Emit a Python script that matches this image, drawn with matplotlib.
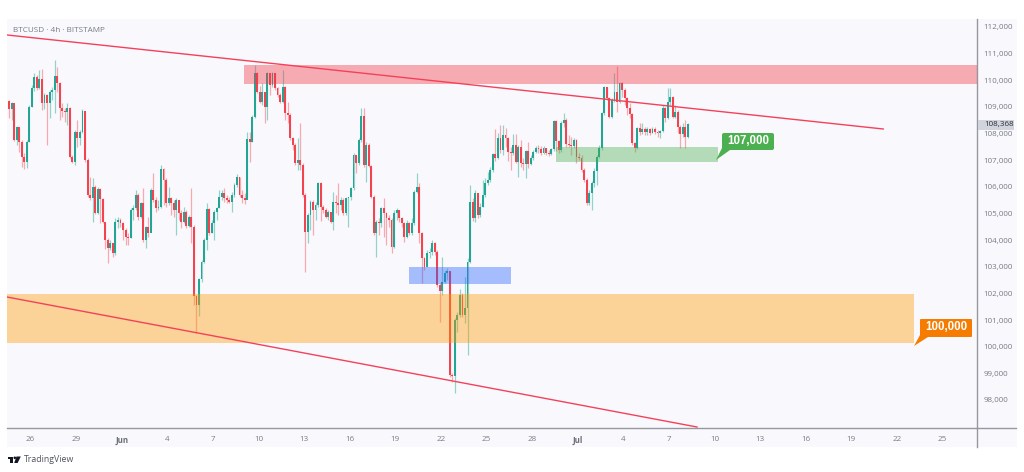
import matplotlib
matplotlib.use("Agg")
import matplotlib.pyplot as plt
from matplotlib.patches import Rectangle, Polygon, Circle, FancyBboxPatch
from matplotlib.transforms import Affine2D
import numpy as np

# 4h candles (open = previous close)
first_open = 109223
closes = [
    108910, 109135, 107759, 108260, 107697, 107134, 106946, 107697, 109010, 109698,
    110136, 109698, 110036, 109135, 109448, 109135, 109573, 109636, 110161, 109886,
    108948, 108860, 108823, 108948, 107134, 106946, 108072, 107822, 108072, 108860,
    107009, 105695, 105570, 106008, 105032, 105908, 105533, 104694, 104006, 103694,
    103881, 103506, 104694, 104757, 104632, 104382, 104132, 104069, 105132, 105195,
    105695, 104882, 105408, 104006, 104482, 104257, 105883, 105508, 105195, 105258,
    106671, 106258, 105383, 105570, 105383, 105132, 105508, 105007, 104694, 105070,
    104532, 104882, 104507, 101905, 101566, 102530, 103193, 104006, 105157, 104257,
    104632, 105070, 105195, 105633, 105758, 105570, 105508, 105445, 105695, 106071,
    106383, 105695, 105570, 105508, 107784, 107697, 108635, 110261, 109573, 109198,
    109573, 109010, 110261, 109823, 110261, 109698, 109448, 109198, 109736, 108760,
    108698, 107822, 107572, 106884, 107009, 106821, 105695, 104319, 104945, 105445,
    105132, 105320, 106133, 105257, 105132, 104882, 105070, 104694, 105445, 105382,
    105320, 105508, 105007, 105570, 105600, 105945, 107196, 106884, 107759,
    108673, 106821, 107572, 106796, 105633, 104257, 104669, 104632, 105195, 105007,
    104820, 104757, 103756, 105007, 105132, 104820, 104632, 104131, 104632, 104257,
    104632, 105820, 106008, 104257, 103318, 103006, 103506, 103568, 103906, 103568,
    102317, 102105, 102443, 102755, 102850, 98937, 98900, 101001, 101189, 101940,
    101189, 101439, 103191, 105445, 104820, 105757, 104944, 105257, 105695, 106133,
    106258, 106633, 107221, 107071, 107821, 107384, 107947, 107846, 107321, 107258,
    107571, 106946, 107509, 106883, 106846, 107346, 106846, 107071, 107321, 107471,
    107421, 107258, 107471, 107258, 107221, 107409, 108472, 107721, 107384, 108384,
    108510, 107596, 107571, 107546, 107759, 107133, 107096, 106633, 106258, 105382,
    105757, 106133, 106600, 107133, 107446, 108760, 109735, 109323, 108635, 109260, 109573,
    109198, 109886, 109635, 109323, 108947, 108722, 107634, 107446, 108197, 108047,
    108172, 108047, 108172, 108009, 108172, 108047, 108009, 108097, 108947, 108597,
    109198, 109385, 108635, 108822, 108259, 107971, 108259, 107884, 108368,
]
highs = [
    109260, 109198, 108985, 108285, 108235, 107760, 107259, 107760, 109073, 109824,
    110261, 110199, 110386, 110411, 109510, 109486, 109636, 109761, 110762, 110512,
    109949, 109135, 108948, 109135, 108985, 107196, 108135, 108510, 108135, 108910,
    108860, 107071, 106383, 106321, 106071, 106008, 105945, 105570, 104632, 104069,
    104006, 103881, 104819, 104882, 104819, 104694, 104444, 104257, 105195, 105320,
    105883, 105758, 105445, 105945, 104532, 104882, 105945, 106508, 105633, 105508,
    106821, 106696, 106321, 106008, 105633, 105508, 105570, 105508, 105132, 105258,
    105132, 104945, 105945, 104569, 101943, 102568, 103256, 104069, 105383, 105195,
    104757, 105132, 105258, 105883, 105883, 105945, 105696, 105633, 105820, 106133,
    106483, 106383, 105883, 105758, 108072, 108072, 108698, 110574, 110324, 109786,
    109886, 109573, 110324, 110286, 110324, 110261, 109761, 109511, 110386, 109786,
    109198, 108760, 107884, 107634, 107822, 108410, 106884, 105758, 105007, 105508,
    105508, 105445, 106196, 106196, 105320, 105195, 105132, 105070, 105820, 105695,
    106133, 105633, 105570, 105633, 105633, 106008, 107259, 107196, 107822,
    108948, 108948, 107697, 107634, 106821, 105695, 104757, 104820, 105257, 105570,
    105070, 104945, 104820, 105132, 105195, 105132, 104882, 104694, 104757, 104694,
    104820, 105883, 106508, 106133, 104319, 103381, 103631, 103693, 104006, 103944,
    103631, 102380, 103378, 102881, 102950, 102815, 99000, 101064, 101314, 102152,
    102002, 102628, 103316, 106070, 105570, 105882, 105445, 105382, 106258, 106320,
    106570, 106758, 107258, 108172, 108009, 108322, 108322, 108197, 107884, 107509,
    107971, 107971, 107571, 107759, 107071, 107384, 107671, 107196, 107384, 107546,
    107571, 107546, 107546, 107446, 107384, 107471, 108510, 108510, 107759, 108472,
    108760, 108572, 107947, 107884, 107822, 107796, 107258, 107196, 106696, 106320,
    105882, 106220, 106700, 107196, 107571, 108822, 109798, 109760, 109385, 109323, 110261,
    110549, 109948, 109948, 109698, 109385, 109135, 108760, 107696, 108259, 108384,
    108384, 108259, 108259, 108222, 108259, 108259, 108134, 108134, 109072, 109010,
    109698, 109698, 109423, 109072, 108885, 108322, 108384, 108510, 108409,
]
lows = [
    108573, 108510, 107735, 107572, 107322, 106759, 106659, 106696, 107697, 108985,
    109611, 109636, 109661, 108885, 108935, 107572, 108573, 109261, 108760, 109573,
    108510, 108635, 108447, 108322, 107071, 106884, 106821, 107509, 107572, 108010,
    106946, 105633, 105508, 104694, 104982, 104982, 104632, 104632, 103656, 103131,
    103631, 103356, 103444, 104444, 104507, 104006, 103819, 103819, 104069, 104757,
    105132, 104757, 104819, 103944, 103694, 104132, 104444, 105445, 105070, 105132,
    105195, 105320, 105258, 105320, 104945, 104882, 104194, 104757, 104444, 104632,
    104444, 104507, 103881, 101566, 100504, 101154, 102443, 103131, 103631, 104194,
    104257, 104006, 104757, 105195, 105508, 105445, 105408, 105383, 105070, 105633,
    106008, 105633, 105383, 105358, 105570, 106946, 107697, 108572, 109511, 109135,
    109073, 108385, 108510, 109448, 109761, 109636, 109386, 109135, 109135, 108510,
    108385, 107759, 107384, 106821, 106633, 106633, 105633, 102818, 103881, 104382,
    104194, 104757, 105257, 104732, 105007, 104820, 104757, 104632, 104382, 105007,
    104945, 105132, 104945, 104945, 104507, 105507, 105883, 106508, 106821,
    107697, 106758, 106196, 106733, 105570, 104194, 103381, 104194, 104507, 104131,
    103819, 104507, 103506, 103694, 104757, 104694, 104507, 103944, 104069, 104194,
    104194, 104569, 105758, 103881, 102380, 102881, 103131, 103318, 103443, 103443,
    102255, 100941, 101940, 102380, 102500, 98875, 98687, 98249, 100563, 101126,
    101126, 100876, 99688, 103128, 104700, 104692, 104819, 104882, 105257, 105632,
    106070, 106195, 106570, 106971, 107046, 107258, 107196, 107509, 106971, 106633,
    107196, 106883, 106383, 106758, 106633, 106345, 106696, 106821, 107008, 107258,
    107258, 107196, 107221, 107196, 107171, 107196, 107346, 107346, 107258, 107321,
    108259, 107509, 107509, 107196, 107446, 106883, 107008, 106570, 106195, 105319,
    105319, 105132, 106000, 106070, 107071, 107384, 108697, 109260, 108572, 108572, 109198,
    108822, 109135, 109385, 109072, 108697, 108572, 107571, 107321, 107421, 107947,
    107971, 107947, 107947, 107947, 108009, 107971, 107884, 107821, 108047, 108447,
    108547, 109072, 108572, 108572, 108009, 107446, 107884, 107446, 107821,
]

# zones and lines, as (day, price)
red_zone = (14.05, 110573, 109860)
orange_zone = (58.1, 101995, 100156)
blue_zone = (24.9, 31.6, 102972, 102352)
green_zone = (34.6, 45.2, 107495, 106921)
upper_line = ([-1.55, 56.1], [111700, 108171])
lower_line = ([-1.55, 43.85], [101864, 96984])

price_ticks = list(range(98000, 112001, 1000))
day_ticks = list(range(0, 61, 3))
day_labels = ["26", "29", "Jun", "4", "7", "10", "13", "16", "19", "22", "25", "28",
              "Jul", "4", "7", "10", "13", "16", "19", "22", "25"]
last_price = 108368

W, H = 1024, 472
TEAL = "#22a595"
RED = "#f2434f"
TEAL_WICK = "#93d2ca"
RED_WICK = "#f7a9ae"
PANEL = "#f9f9fd"
GREY = "#787b86"
FONT = "Open Sans"


def axes_rect(x0, y0, x1, y1):
    return [x0 / W, 1 - y1 / H, (x1 - x0) / W, (y1 - y0) / H]


fig = plt.figure(figsize=(W / 100, H / 100), dpi=100, facecolor="white")
# figure overlay in pixels from the top left corner
px = Affine2D().scale(1 / W, -1 / H).translate(0, 1) + fig.transFigure

fig.add_artist(Rectangle((7, 19), 1010, 428, transform=px, fc=PANEL, ec="none", zorder=0))

ax = fig.add_axes(axes_rect(7, 19, 977, 428), facecolor=PANEL, zorder=1)
ax.set_xlim(-1.55, 62.27)
ax.set_ylim(96947, 112300)

n = len(closes)
x = 43.25 - (n - 1 - np.arange(n)) / 6
c = np.array(closes, dtype=float)
o = np.r_[first_open, c[:-1]]
up = c >= o

ax.vlines(x[up], np.array(lows)[up], np.array(highs)[up], color=TEAL_WICK, lw=0.9, zorder=2)
ax.vlines(x[~up], np.array(lows)[~up], np.array(highs)[~up], color=RED_WICK, lw=0.9, zorder=2)
ax.bar(x[up], (c - o)[up], bottom=o[up], width=0.125, color=TEAL, lw=0, zorder=3)
ax.bar(x[~up], (c - o)[~up], bottom=o[~up], width=0.125, color=RED, lw=0, zorder=3)

# zones on top of the candles
ax.add_patch(Rectangle((red_zone[0], red_zone[2]), 70, red_zone[1] - red_zone[2],
                       fc="#f23645", alpha=0.4, ec="none", zorder=4))
ax.add_patch(Rectangle((-1.55, orange_zone[2]), orange_zone[0] + 1.55, orange_zone[1] - orange_zone[2],
                       fc="#ff9800", alpha=0.4, ec="none", zorder=4))
ax.add_patch(Rectangle((blue_zone[0], blue_zone[3]), blue_zone[1] - blue_zone[0], blue_zone[2] - blue_zone[3],
                       fc="#2962ff", alpha=0.4, ec="none", zorder=4))
ax.add_patch(Rectangle((green_zone[0], green_zone[3]), green_zone[1] - green_zone[0], green_zone[2] - green_zone[3],
                       fc="#4caf50", alpha=0.4, ec="none", zorder=4))

ax.plot(upper_line[0], upper_line[1], color="#f4415a", lw=1.0, zorder=5)
ax.plot(lower_line[0], lower_line[1], color="#f4415a", lw=1.0, zorder=5)

# axes
for side in ["top", "left"]:
    ax.spines[side].set_visible(False)
for side in ["right", "bottom"]:
    ax.spines[side].set_color("#9598a1")
    ax.spines[side].set_linewidth(1.0)

ax.yaxis.tick_right()
ax.set_yticks(price_ticks)
ax.set_yticklabels([f"{p:,}" for p in price_ticks], fontsize=5.8, color=GREY, family=FONT)
ax.set_xticks(day_ticks)
ax.set_xticklabels(day_labels, fontsize=5.8, color=GREY, family=FONT)
for lab in ax.get_xticklabels():
    if lab.get_text() in ("Jun", "Jul"):
        lab.set_fontweight("bold")
        lab.set_color("#6a6d78")
ax.tick_params(axis="both", length=0)
ax.tick_params(axis="y", pad=4.8)
ax.tick_params(axis="x", pad=6)

# axis extensions down to the panel edge
fig.add_artist(plt.Line2D([977, 977], [428, 447], transform=px, color="#9598a1", lw=1.0, zorder=3))
fig.add_artist(plt.Line2D([977, 1016], [428, 428], transform=px, color="#9598a1", lw=1.0, zorder=3))

# last price tag
fig.add_artist(Rectangle((977.5, 120), 36.5, 10, transform=px, fc="#d1d4dc", ec="none", zorder=3))
fig.text(984 / W, 1 - 124.6 / H, f"{last_price:,}", fontsize=5.8, color="#2a2e39", family=FONT,
         va="center", ha="left", zorder=4)

# callouts
fig.add_artist(Polygon([(722, 148), (730, 150), (716, 160)], transform=px, fc="#4caf50", ec="none", zorder=5))
fig.add_artist(FancyBboxPatch((723, 134), 50, 15, boxstyle="round,pad=1,rounding_size=2", transform=px,
                              fc="#4caf50", ec="none", zorder=5))
fig.text(748 / W, 1 - 141.5 / H, "107,000", fontsize=8.3, color="white", fontweight="bold",
         family="Liberation Sans", ha="center", va="center", zorder=6)

fig.add_artist(Polygon([(920, 335), (928, 337), (914, 346)], transform=px, fc="#f57c00", ec="none", zorder=5))
fig.add_artist(FancyBboxPatch((921, 320), 50, 16, boxstyle="round,pad=1,rounding_size=1", transform=px,
                              fc="#f57c00", ec="none", zorder=5))
fig.text(946 / W, 1 - 327.5 / H, "100,000", fontsize=8.3, color="white", fontweight="bold",
         family="Liberation Sans", ha="center", va="center", zorder=6)

# header and watermark
fig.text(13 / W, 1 - 30 / H, "BTCUSD · 4h · BITSTAMP", fontsize=5.9, color=GREY, family=FONT,
         va="center", ha="left", zorder=6)
fig.text(24 / W, 1 - 460 / H, "TradingView", fontsize=6.3, color="#50535e", family=FONT,
         va="center", ha="left", zorder=6)
fig.add_artist(Polygon([(7.5, 456.5), (13, 456.5), (13, 463), (10, 463), (10, 459), (7.5, 459)],
                       transform=px, fc="#131722", ec="none", zorder=6))
fig.add_artist(Circle((14.8, 457.8), 1.3, transform=px, fc="#131722", ec="none", zorder=6))
fig.add_artist(Polygon([(16.5, 456.5), (20.8, 456.5), (17.6, 463), (14.2, 463)],
                       transform=px, fc="#131722", ec="none", zorder=6))

fig.savefig("out.png", dpi=100)
